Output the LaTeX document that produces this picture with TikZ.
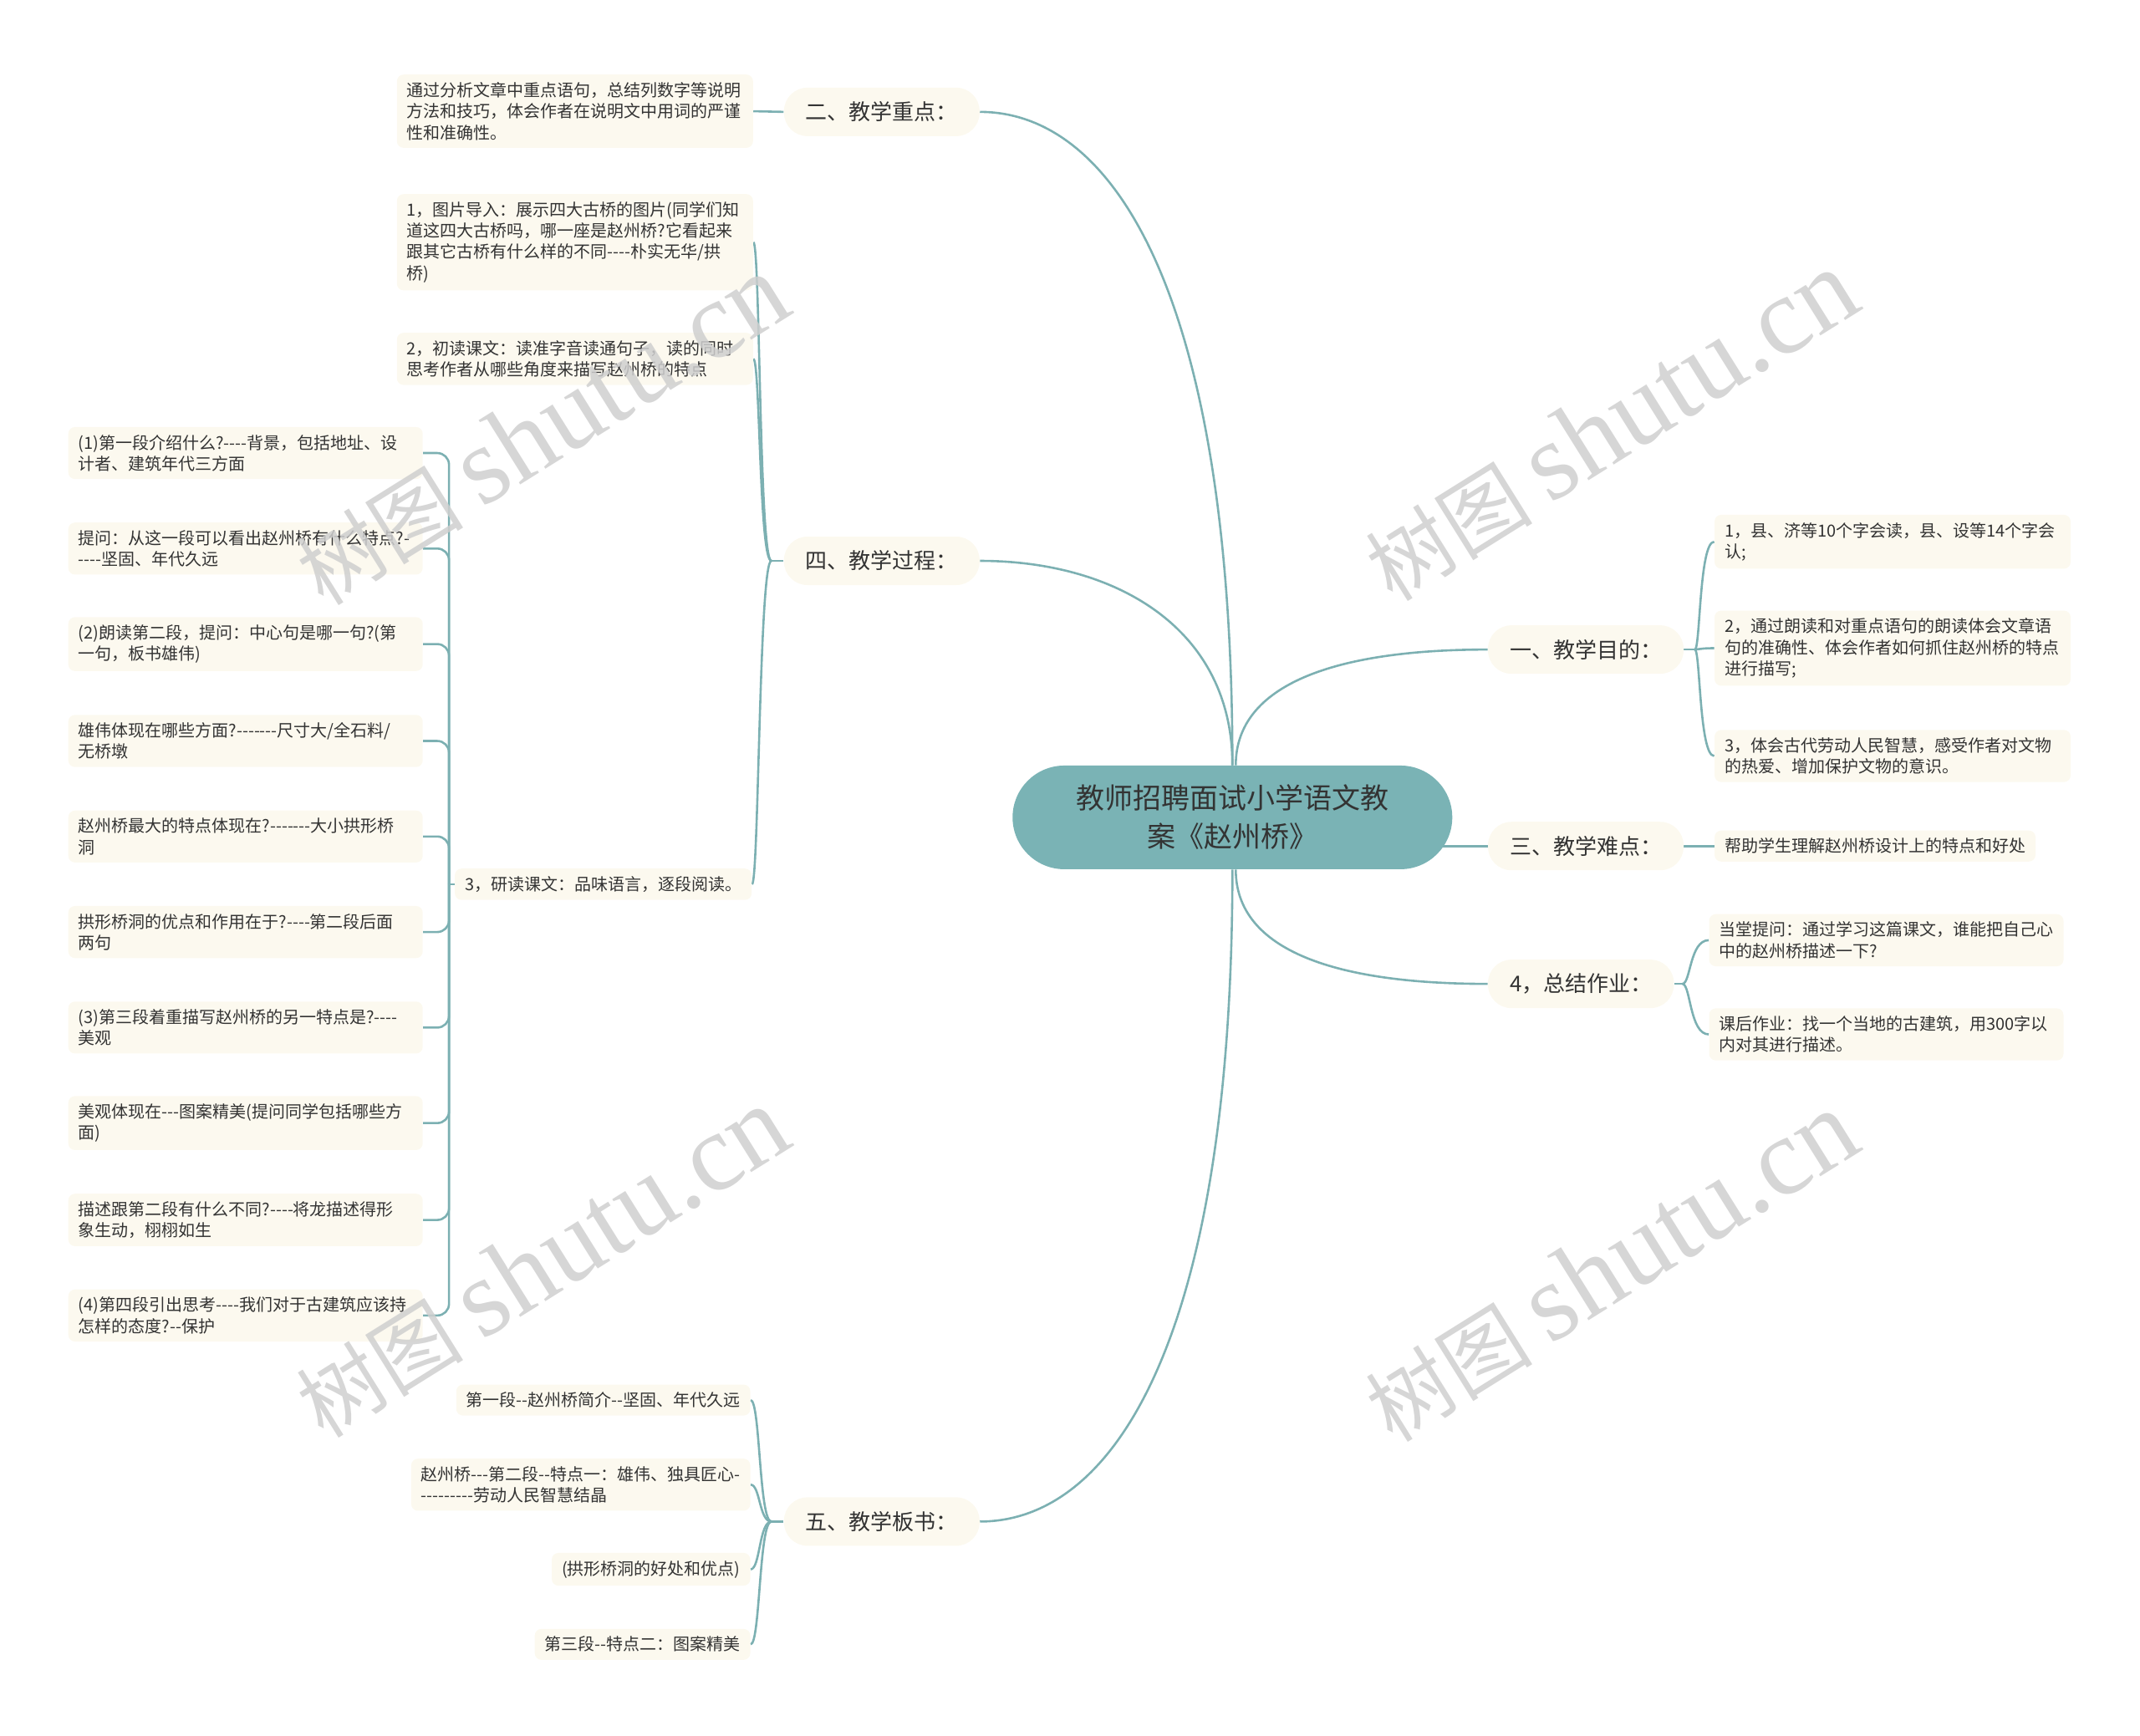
\documentclass[tikz,border=0pt]{standalone}
\usepackage{fontspec}
\newfontfamily\cjk{Noto Sans CJK SC}
\newfontfamily\wmserif{Liberation Serif}
\usetikzlibrary{calc}
\exhyphenpenalty=10000
\hyphenpenalty=10000
\definecolor{rootc}{HTML}{7AB3B5}
\definecolor{linec}{HTML}{7CB0B2}
\definecolor{cream}{HTML}{FCF9EF}
\definecolor{txt}{HTML}{333333}
\definecolor{wm}{HTML}{CFCFCF}
\pgfdeclarelayer{bg}
\pgfsetlayers{bg,main}
\begin{document}
\begin{tikzpicture}[x=0.8163pt,y=-0.8163pt,
  every node/.style={font=\cjk, text=txt},
  conn/.style={draw=linec, line width=1.3pt},
  leaf/.style={fill=cream, rounded corners=4pt, inner xsep=6pt, inner ysep=4.6pt, align=left, font=\cjk\fontsize{10}{12.65}\selectfont},
  leafw/.style={leaf, text width=#1},
  branch/.style={fill=cream, rounded corners=14pt, minimum height=29pt, inner xsep=13pt, font=\cjk\fontsize{13}{16}\selectfont},
  root/.style={fill=rootc, rounded corners=31pt, minimum width=263pt, minimum height=62pt, align=center, font=\cjk\fontsize{17}{23}\selectfont},
  wmark/.style={text=wm, text opacity=0.85, rotate=32, font=\cjk\fontsize{50}{50}\selectfont}
]
\useasboundingbox (0,0) rectangle (1568,1272);

% root
\node[root] (c) at (903,599) {教师招聘面试小学语文教\\案《赵州桥》};

% main branches
\node[branch, anchor=east] (b2) at (718,82) {二、教学重点：};
\node[branch, anchor=east] (b4) at (718,411) {四、教学过程：};
\node[branch, anchor=east] (b5) at (718,1115) {五、教学板书：};
\node[branch, anchor=west] (b1) at (1090,476) {一、教学目的：};
\node[branch, anchor=west] (b3) at (1090,620) {三、教学难点：};
\node[branch, anchor=west] (b6) at (1090,721) {4，总结作业：};

% left leaves
\node[leafw=201pt, anchor=east] (t1) at (552,81.5) {通过分析文章中重点语句，总结列数字等说明\\方法和技巧，体会作者在说明文中用词的严谨\\性和准确性。};
\node[leafw=201pt, anchor=east] (p1) at (552,177.5) {1，图片导入：展示四大古桥的图片(同学们知\\道这四大古桥吗，哪一座是赵州桥?它看起来\\跟其它古桥有什么样的不同----朴实无华/拱\\桥)};
\node[leafw=201pt, anchor=east] (p2) at (552,263) {2，初读课文：读准字音读通句子，读的同时\\思考作者从哪些角度来描写赵州桥的特点};
\node[leaf, anchor=east] (p3) at (551,648) {3，研读课文：品味语言，逐段阅读。};

\node[leafw=200pt, anchor=east] (s1) at (310,332) {(1)第一段介绍什么?----背景，包括地址、设\\计者、建筑年代三方面};
\node[leafw=200pt, anchor=east] (s2) at (310,402) {提问：从这一段可以看出赵州桥有什么特点?-\\----坚固、年代久远};
\node[leafw=200pt, anchor=east] (s3) at (310,472) {(2)朗读第二段，提问：中心句是哪一句?(第\\一句，板书雄伟)};
\node[leafw=200pt, anchor=east] (s4) at (310,543) {雄伟体现在哪些方面?-------尺寸大/全石料/\\无桥墩};
\node[leafw=200pt, anchor=east] (s5) at (310,613) {赵州桥最大的特点体现在?-------大小拱形桥\\洞};
\node[leafw=200pt, anchor=east] (s6) at (310,683) {拱形桥洞的优点和作用在于?----第二段后面\\两句};
\node[leafw=200pt, anchor=east] (s7) at (310,753) {(3)第三段着重描写赵州桥的另一特点是?----\\美观};
\node[leafw=200pt, anchor=east] (s8) at (310,823) {美观体现在---图案精美(提问同学包括哪些方\\面)};
\node[leafw=200pt, anchor=east] (s9) at (310,894) {描述跟第二段有什么不同?----将龙描述得形\\象生动，栩栩如生};
\node[leafw=200pt, anchor=east] (s10) at (310,964) {(4)第四段引出思考----我们对于古建筑应该持\\怎样的态度?--保护};

\node[leaf, anchor=east] (f1) at (550,1026) {第一段--赵州桥简介--坚固、年代久远};
\node[leaf, anchor=east] (f2) at (550,1088) {赵州桥---第二段--特点一：雄伟、独具匠心-\\---------劳动人民智慧结晶};
\node[leaf, anchor=east] (f3) at (550,1150) {(拱形桥洞的好处和优点)};
\node[leaf, anchor=east] (f4) at (550,1205) {第三段--特点二：图案精美};

% right leaves
\node[leafw=201pt, anchor=west] (r1) at (1256,397) {1，县、济等10个字会读，县、设等14个字会\\认;};
\node[leafw=201pt, anchor=west] (r2) at (1256,475) {2，通过朗读和对重点语句的朗读体会文章语\\句的准确性、体会作者如何抓住赵州桥的特点\\进行描写;};
\node[leafw=201pt, anchor=west] (r3) at (1256,554) {3，体会古代劳动人民智慧，感受作者对文物\\的热爱、增加保护文物的意识。};
\node[leaf, anchor=west] (r4) at (1256,620) {帮助学生理解赵州桥设计上的特点和好处};
\node[leafw=200pt, anchor=west] (r5) at (1252,689) {当堂提问：通过学习这篇课文，谁能把自己心\\中的赵州桥描述一下?};
\node[leafw=200pt, anchor=west] (r6) at (1252,758) {课后作业：找一个当地的古建筑，用300字以\\内对其进行描述。};

% connectors
\begin{pgfonlayer}{bg}
\draw[conn] (c.north) .. controls +(0,-340) and +(100,0) .. (b2.east);
\draw[conn] (c.north) .. controls +(0,-100) and +(100,0) .. (b4.east);
\draw[conn] (c.south) .. controls +(0,340) and +(100,0) .. (b5.east);
\draw[conn] ([xshift=2pt]c.north) .. controls +(0,-60) and +(-110,0) .. (b1.west);
\draw[conn] (c.center |- b3.west) -- (b3.west);
\draw[conn] ([xshift=2pt]c.south) .. controls +(0,60) and +(-110,0) .. (b6.west);

\draw[conn] (b2.west) -- (t1.east);

\coordinate (k4) at ($(b4.west)+(-9,0)$);
\draw[conn] (b4.west) -- (k4);
\foreach \n in {p1,p2,p3} \draw[conn] (k4) .. controls +(-9,0) and +(5,0) .. (\n.east);

\coordinate (k3) at ($(p3.west)+(-4,0)$);
\draw[conn] (p3.west) -- (k3);
\foreach \n in {s1,s2,s3,s4,s5,s6,s7,s8,s9,s10} \draw[conn, rounded corners=7pt] (k3) -- (k3 |- \n.east) -- (\n.east);

\coordinate (k5) at ($(b5.west)+(-9,0)$);
\draw[conn] (b5.west) -- (k5);
\foreach \n in {f1,f2,f3,f4} \draw[conn] (k5) .. controls +(-9,0) and +(7,0) .. (\n.east);

\coordinate (k1) at ($(b1.east)+(8,0)$);
\draw[conn] (b1.east) -- (k1);
\foreach \n in {r1,r2,r3} \draw[conn] (k1) .. controls +(4,0) and +(-11,0) .. (\n.west);

\draw[conn] (b3.east) -- (r4.west);

\coordinate (k6) at ($(b6.east)+(6,0)$);
\draw[conn] (b6.east) -- (k6);
\foreach \n in {r5,r6} \draw[conn] (k6) .. controls +(6,0) and +(-14,0) .. (\n.west);
\end{pgfonlayer}

% watermarks
\node[wmark] (w1) at (397,315) {树图 {\wmserif\fontsize{66}{66}\selectfont shutu.cn}};
\node[wmark] (w2) at (1180,312) {树图 {\wmserif\fontsize{66}{66}\selectfont shutu.cn}};
\node[wmark] (w3) at (397,925) {树图 {\wmserif\fontsize{66}{66}\selectfont shutu.cn}};
\node[wmark] (w4) at (1180,928) {树图 {\wmserif\fontsize{66}{66}\selectfont shutu.cn}};
\end{tikzpicture}
\end{document}
